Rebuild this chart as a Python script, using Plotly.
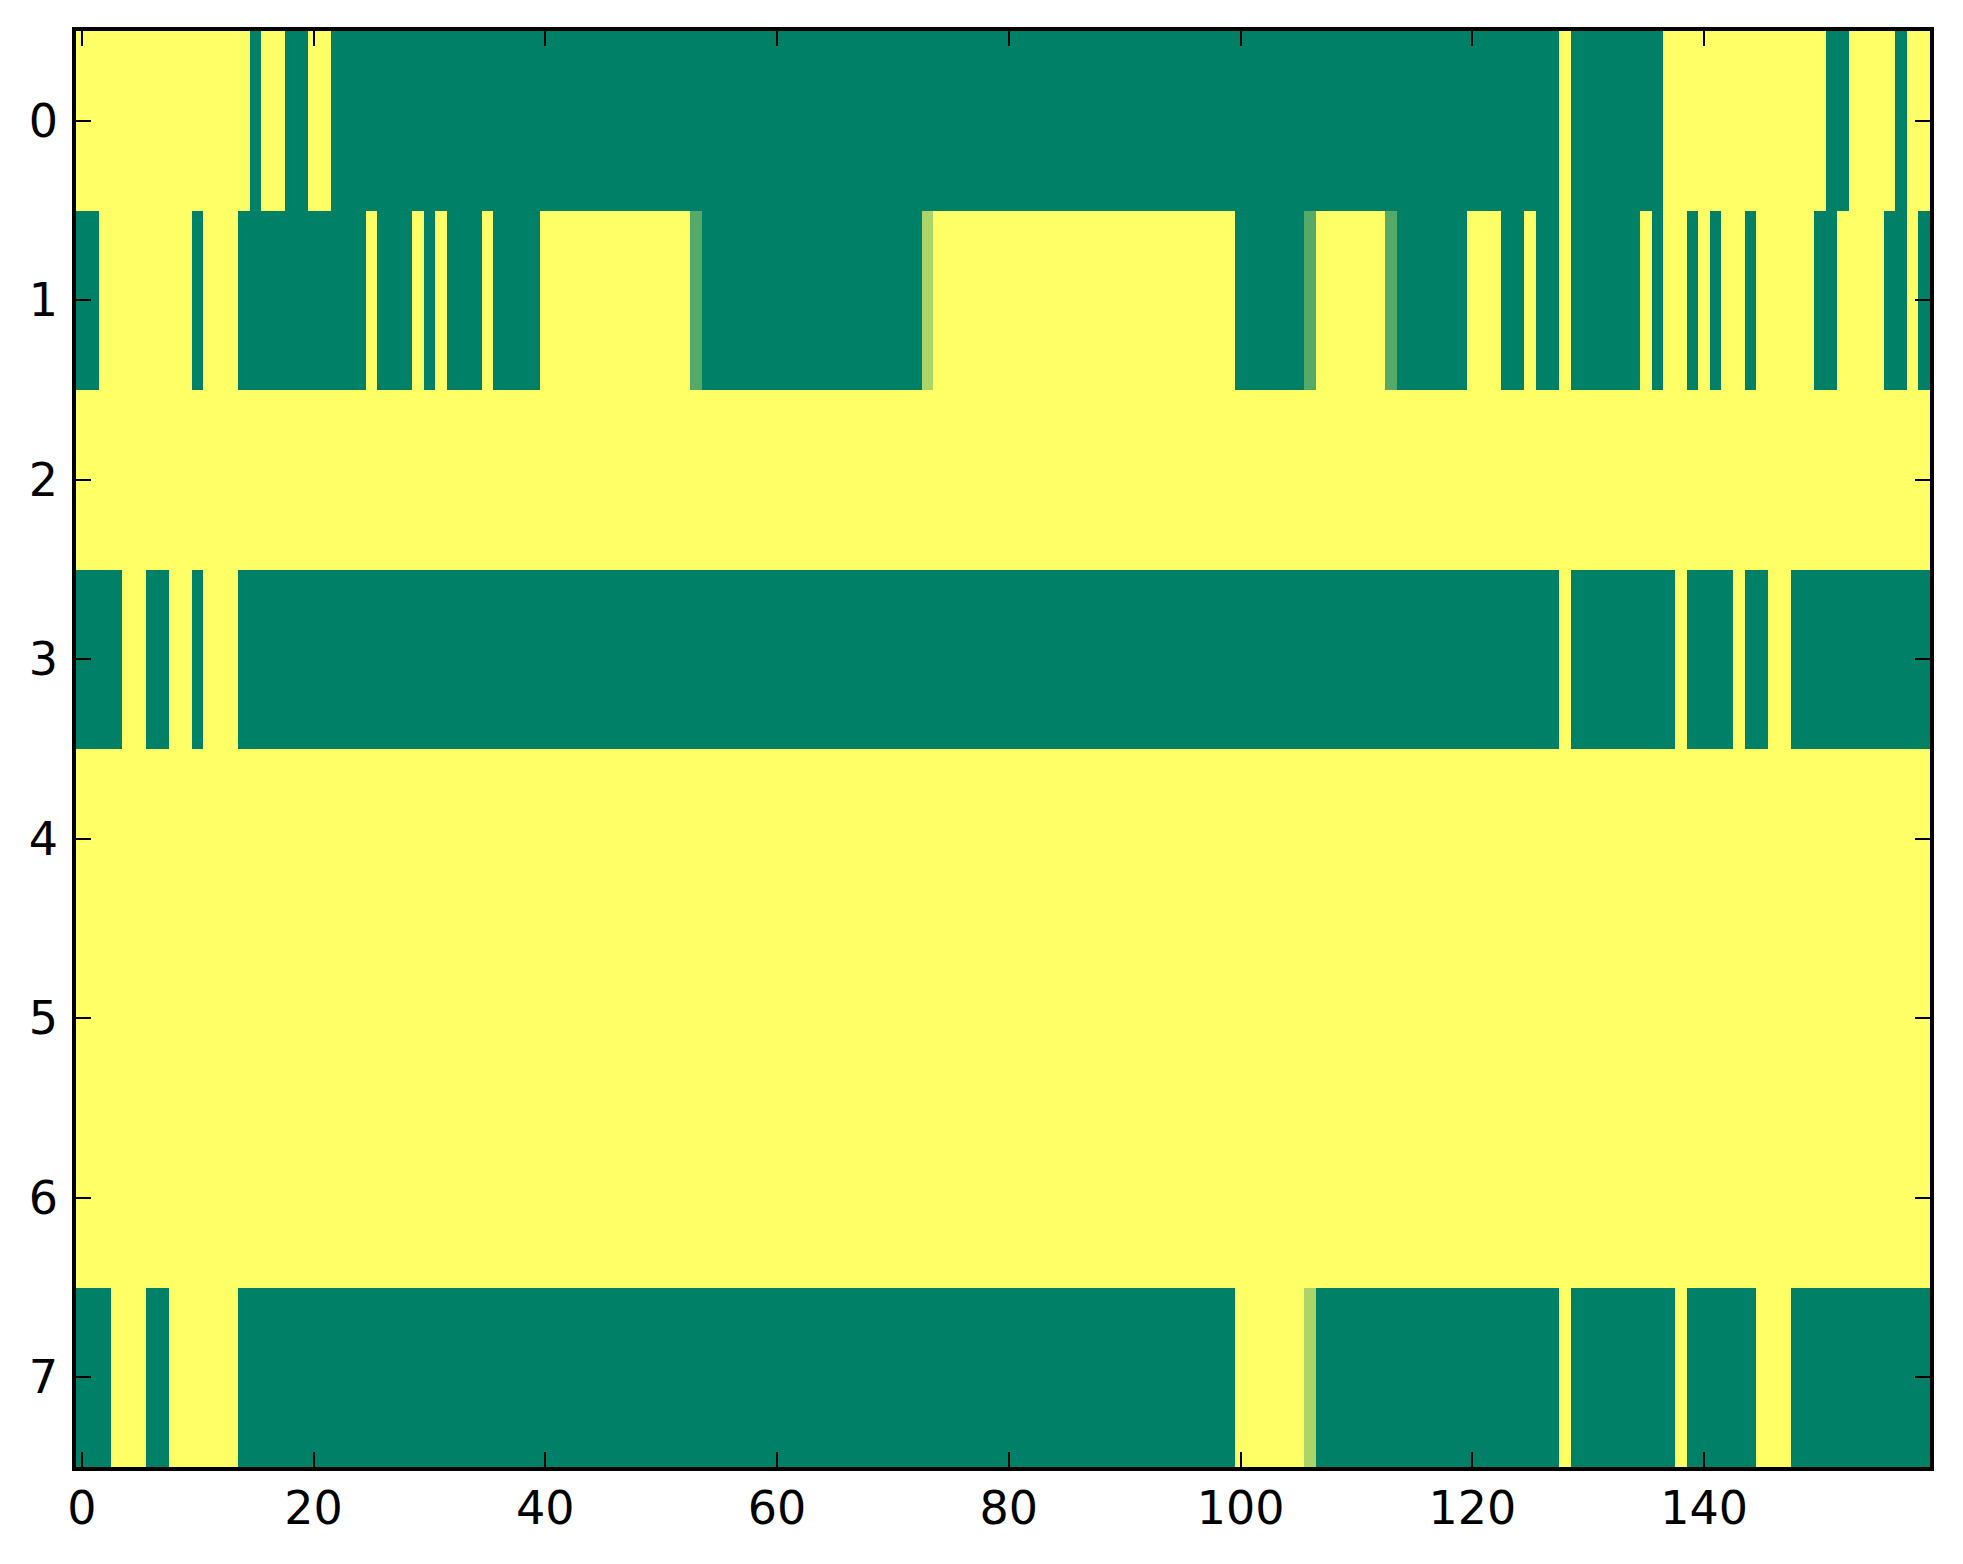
import plotly.graph_objects as go

# each row is stored as (value, run length) pairs, read left to right
# 1 = yellow, 0 = green, in-between values are the lighter greens
row0 = [(1, 15), (0, 1), (1, 2), (0, 2), (1, 2), (0, 106), (1, 1), (0, 8),
        (1, 14), (0, 2), (1, 4), (0, 1), (1, 2)]
row1 = [(0, 2), (1, 8), (0, 1), (1, 3), (0, 11), (1, 1), (0, 3), (1, 1), (0, 1),
        (1, 1), (0, 3), (1, 1), (0, 4), (1, 13), (0.33, 1), (0, 19), (0.67, 1),
        (1, 26), (0, 6), (0.33, 1), (1, 6), (0.33, 1), (0, 6), (1, 3), (0, 2),
        (1, 1), (0, 2), (1, 1), (0, 6), (1, 1), (0, 1), (1, 2), (0, 1), (1, 1),
        (0, 1), (1, 2), (0, 1), (1, 5), (0, 2), (1, 4), (0, 2), (1, 1), (0, 1)]
row2 = [(1, 160)]
row3 = [(0, 4), (1, 2), (0, 2), (1, 2), (0, 1), (1, 3), (0, 114), (1, 1), (0, 9),
        (1, 1), (0, 4), (1, 1), (0, 2), (1, 2), (0, 12)]
row4 = [(1, 160)]
row5 = [(1, 160)]
row6 = [(1, 160)]
row7 = [(0, 3), (1, 3), (0, 2), (1, 6), (0, 86), (1, 6), (0.67, 1), (0, 21),
        (1, 1), (0, 9), (1, 1), (0, 6), (1, 3), (0, 12)]

rows = [row0, row1, row2, row3, row4, row5, row6, row7]
x_ticks = [0, 20, 40, 60, 80, 100, 120, 140]
y_ticks = [0, 1, 2, 3, 4, 5, 6, 7]

z = []
for runs in rows:
    line = []
    for val, n in runs:
        line += [val] * n
    z.append(line)

ncols = len(z[0])

fig = go.Figure(go.Heatmap(
    z=z,
    x=list(range(ncols)),
    y=list(range(len(z))),
    zmin=0, zmax=1,
    colorscale=[[0, 'rgb(0,128,102)'], [1, 'rgb(255,255,102)']],
    showscale=False,
))

axis_style = dict(
    showline=True, linecolor='black', linewidth=3.5, mirror='ticks',
    ticks='inside', ticklen=15, tickwidth=2, tickcolor='black',
    showgrid=False, zeroline=False,
    tickfont=dict(family='DejaVu Sans', size=46, color='black'),
)

fig.update_xaxes(range=[-0.5, ncols - 0.5], tickvals=x_ticks, ticklabelstandoff=-2, **axis_style)
fig.update_yaxes(range=[len(z) - 0.5, -0.5], tickvals=y_ticks, ticklabelstandoff=5, **axis_style)

fig.update_layout(
    width=1963, height=1564,
    margin=dict(l=68, r=41, t=23, b=105),
    plot_bgcolor='white', paper_bgcolor='white',
)

fig.write_html("out.html")
